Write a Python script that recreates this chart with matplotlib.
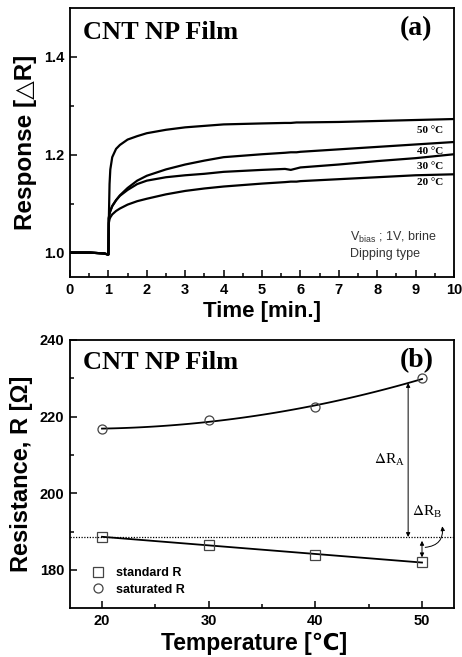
import numpy as np
import matplotlib.pyplot as plt

# ---- panel (a): response vs time ----
t = [0, 0.5, 0.9, 0.98, 1.0, 1.01, 1.03, 1.05, 1.1, 1.2, 1.3, 1.5, 1.75, 2,
     2.5, 3, 3.5, 4, 5, 5.6, 5.75, 5.9, 6, 7, 8, 9, 10]
r50 = [1.0, 1.0, 0.998, 0.996, 0.996, 1.06, 1.14, 1.17, 1.195, 1.212, 1.22, 1.231, 1.238, 1.244,
       1.251, 1.256, 1.259, 1.262, 1.264, 1.265, 1.265, 1.266, 1.266, 1.267, 1.269, 1.271, 1.273]
r40 = [1.0, 1.0, 0.998, 0.996, 0.996, 1.07, 1.08, 1.085, 1.095, 1.107, 1.117, 1.132, 1.147, 1.157,
       1.17, 1.18, 1.188, 1.195, 1.201, 1.204, 1.205, 1.205, 1.206, 1.211, 1.216, 1.221, 1.226]
r30 = [1.0, 1.0, 0.998, 0.996, 0.996, 1.07, 1.08, 1.085, 1.095, 1.107, 1.116, 1.128, 1.14, 1.147,
       1.154, 1.158, 1.161, 1.165, 1.169, 1.171, 1.169, 1.172, 1.174, 1.18, 1.187, 1.193, 1.201]
r20 = [1.0, 1.0, 0.998, 0.996, 0.996, 1.06, 1.068, 1.072, 1.078, 1.085, 1.09, 1.098, 1.105, 1.11,
       1.119, 1.126, 1.131, 1.135, 1.141, 1.144, 1.145, 1.145, 1.146, 1.15, 1.154, 1.158, 1.16]
curve_labels = ["50 °C", "40 °C", "30 °C", "20 °C"]
label_y = [1.25, 1.207, 1.176, 1.143]

# ---- panel (b): resistance vs temperature ----
temp = [20, 30, 40, 50]
std_R = [188.6, 186.6, 184.0, 182.0]
sat_R = [216.7, 219.2, 222.4, 230.0]

SANS = ['Liberation Sans', 'DejaVu Sans', 'Noto Sans CJK SC']
SERIF = ['Liberation Serif', 'DejaVu Serif']

fig = plt.figure(figsize=(4.62, 6.57), dpi=100)
ax1 = fig.add_axes([0.1515, 0.5784, 0.8312, 0.4094])
ax2 = fig.add_axes([0.1515, 0.0741, 0.8312, 0.4084])

for ax in (ax1, ax2):
    for s in ax.spines.values():
        s.set_linewidth(1.3)
    ax.tick_params(which='both', direction='in', top=False, right=False, width=1.1)
    ax.tick_params(which='major', length=5, pad=4)
    ax.tick_params(which='minor', length=3)

for r in (r50, r40, r30, r20):
    ax1.plot(t, r, color='black', lw=1.6)
for lab, y in zip(curve_labels, label_y):
    ax1.text(9.03, y, lab, family=SERIF, fontweight='bold', fontsize=8, va='center')

ax1.set_xlim(0, 10)
ax1.set_ylim(0.95, 1.5)
ax1.set_xticks(range(0, 11))
ax1.set_xticks(np.arange(0.5, 10, 1), minor=True)
ax1.set_yticks([1.0, 1.2, 1.4])
ax1.set_yticks([1.1, 1.3], minor=True)
ax1.set_xlabel("Time [min.]", family=SANS, fontweight='bold', fontsize=16, labelpad=3)
ax1.set_ylabel("Response [△R]", family=SANS, fontweight='bold', fontsize=17.5, labelpad=5)
ax1.text(0.034, 0.91, "CNT NP Film", transform=ax1.transAxes, family=SERIF,
         fontweight='bold', fontsize=19, va='center')
ax1.text(0.90, 0.925, "(a)", transform=ax1.transAxes, family=SERIF,
         fontweight='bold', fontsize=20, va='center', ha='center')
ax1.text(7.3, 1.031, r"V$_{\mathregular{bias}}$ ; 1V, brine", family=SANS, fontsize=9,
         color='#333333', va='center')
ax1.text(7.3, 0.996, "Dipping type", family=SANS, fontsize=9, color='#333333', va='center')

# panel (b)
tt = np.linspace(20, 50, 100)
sat_fit = np.polyfit(temp, sat_R, 2)
std_fit = np.polyfit(temp, std_R, 1)
ax2.plot(tt, np.polyval(sat_fit, tt), color='black', lw=1.3)
ax2.plot(tt, np.polyval(std_fit, tt), color='black', lw=1.3)
ax2.plot(temp, std_R, 's', mfc='none', mec='#444444', ms=6.5, mew=0.9, label='standard R')
ax2.plot(temp, sat_R, 'o', mfc='none', mec='#444444', ms=6.5, mew=0.9, label='saturated R')
ax2.axhline(std_R[0], color='black', lw=0.9, ls=(0, (1, 1.2)))

xa = 48.7
ax2.annotate("", xy=(xa, np.polyval(sat_fit, xa)), xytext=(xa, std_R[0]),
             arrowprops=dict(arrowstyle='<|-|>', lw=0.7, color='black', mutation_scale=6,
                             shrinkA=0, shrinkB=0))
ax2.text(xa - 0.25, 208.7, r"$\Delta$R$_\mathregular{A}$", family=SERIF, fontsize=11,
         ha='right', va='center', math_fontfamily='stix')
ax2.annotate("", xy=(50, 187.6), xytext=(50, 183.3),
             arrowprops=dict(arrowstyle='<|-|>', lw=0.7, color='black', mutation_scale=6,
                             shrinkA=0, shrinkB=0))
ax2.annotate("", xy=(51.9, 191.4), xytext=(50.3, 185.9),
             arrowprops=dict(arrowstyle='-|>', lw=0.7, color='black', mutation_scale=6,
                             connectionstyle='arc3,rad=0.5', shrinkA=0, shrinkB=0))
ax2.text(50.5, 195.2, r"$\Delta$R$_\mathregular{B}$", family=SERIF, fontsize=11,
         ha='center', va='center', math_fontfamily='stix')

ax2.set_xlim(17, 53)
ax2.set_ylim(170, 240)
ax2.set_xticks([20, 30, 40, 50])
ax2.set_xticks([25, 35, 45], minor=True)
ax2.set_yticks([180, 200, 220, 240])
ax2.set_yticks([190, 210, 230], minor=True)
ax2.set_xlabel("Temperature [℃]", family=SANS, fontweight='bold', fontsize=16.5, labelpad=3)
ax2.set_ylabel("Resistance, R [Ω]", family=SANS, fontweight='bold', fontsize=17, labelpad=5)
ax2.xaxis.label.set_x(0.48)
ax2.text(0.034, 0.915, "CNT NP Film", transform=ax2.transAxes, family=SERIF,
         fontweight='bold', fontsize=19, va='center')
ax2.text(0.903, 0.925, "(b)", transform=ax2.transAxes, family=SERIF,
         fontweight='bold', fontsize=20, va='center', ha='center')
leg = ax2.legend(loc='lower left', bbox_to_anchor=(0.01, 0.005), frameon=False,
                 prop=dict(family=SANS, weight='bold', size=9), handletextpad=0.5,
                 labelspacing=0.35)

for ax in (ax1, ax2):
    for lab in ax.get_xticklabels() + ax.get_yticklabels():
        lab.set_family(SANS)
        lab.set_fontweight('bold')
        lab.set_fontsize(10.5)

fig.savefig("out.png", dpi=100)
